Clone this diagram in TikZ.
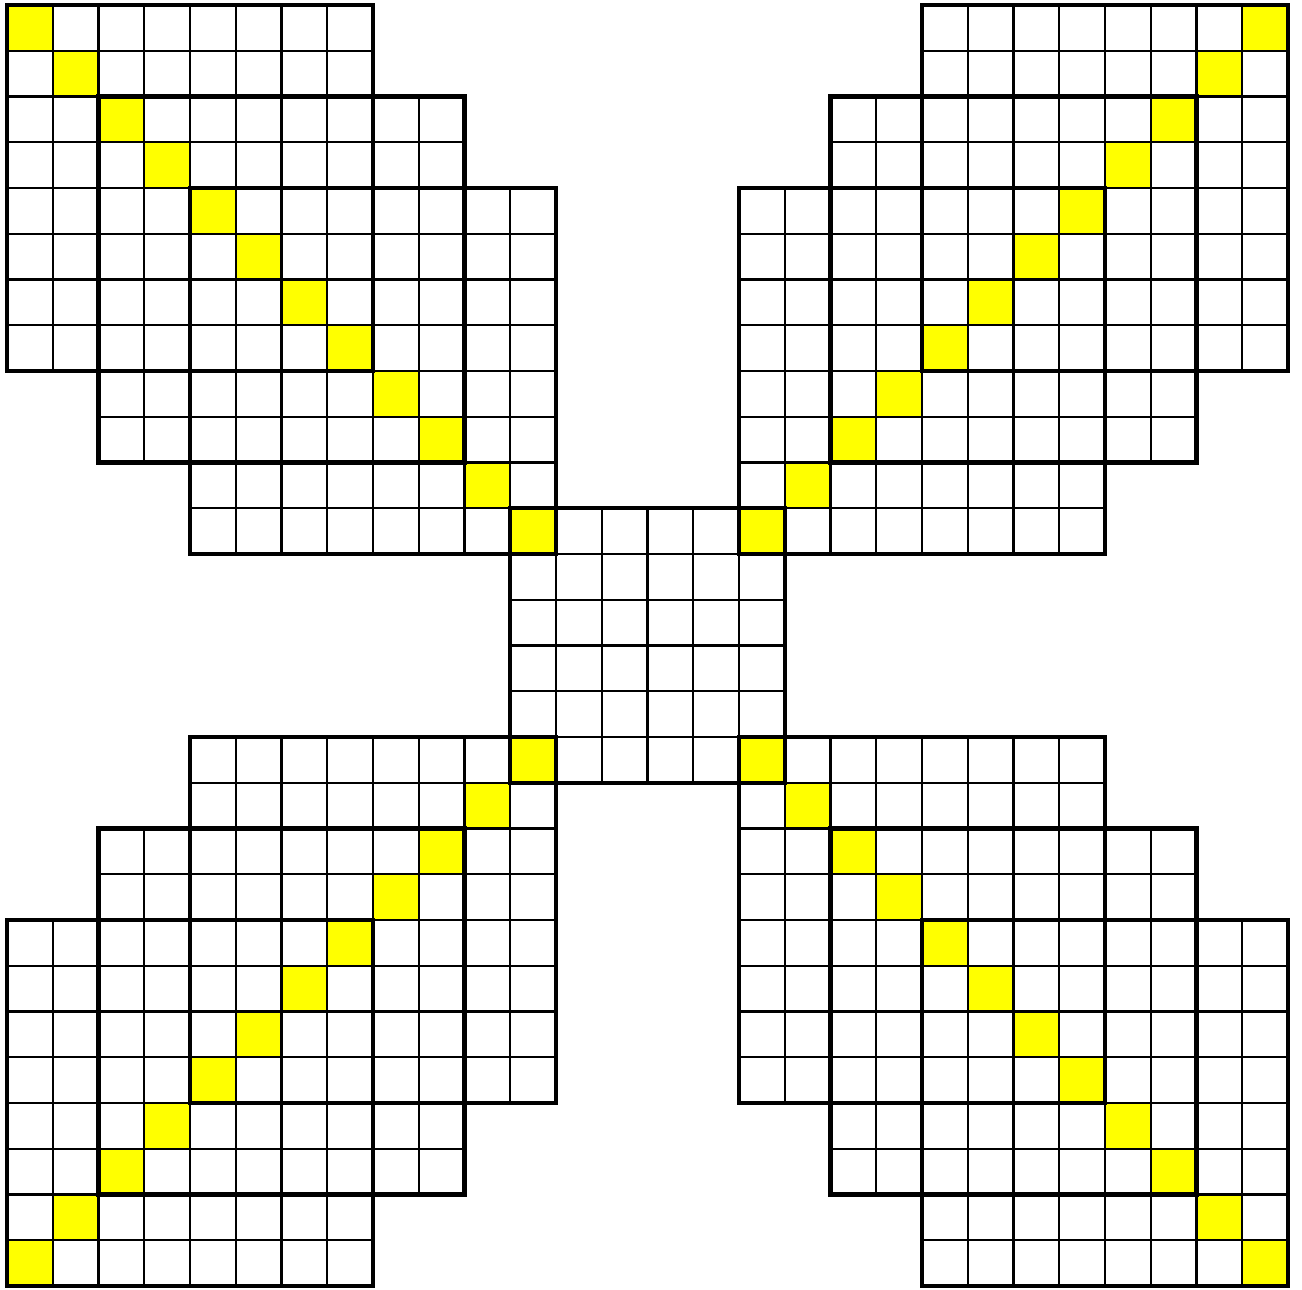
\documentclass[tikz,border=0pt]{standalone}
\definecolor{yel}{RGB}{255,255,0}
\begin{document}
\begin{tikzpicture}[x=1cm,y=-1cm,
  thingrid/.style={line width=1.3pt,black},
  thickborder/.style={line width=2.7pt,black,line join=miter},
  ycell/.style={fill=yel}]
\useasboundingbox[fill=white] (-0.153,-0.109) rectangle (28.306,28.066);
% yellow cells
\foreach \i in {0,...,11}{
  \pgfmathtruncatemacro{\j}{27-\i}
  \fill[ycell] (\i,\i) rectangle ++(1,1);
  \fill[ycell] (\j,\i) rectangle ++(1,1);
  \fill[ycell] (\i,\j) rectangle ++(1,1);
  \fill[ycell] (\j,\j) rectangle ++(1,1);
}
% thin grids
\foreach \x/\y/\s in {0/0/8,2/2/8,4/4/8,20/0/8,18/2/8,16/4/8,0/20/8,2/18/8,4/16/8,20/20/8,18/18/8,16/16/8,11/11/6}{
  \draw[thingrid] (\x,\y) grid ++(\s,\s);
}
% thick borders
\foreach \x/\y/\s in {0/0/8,2/2/8,4/4/8,20/0/8,18/2/8,16/4/8,0/20/8,2/18/8,4/16/8,20/20/8,18/18/8,16/16/8,11/11/6}{
  \draw[thickborder] (\x,\y) rectangle ++(\s,\s);
}
\end{tikzpicture}
\end{document}
